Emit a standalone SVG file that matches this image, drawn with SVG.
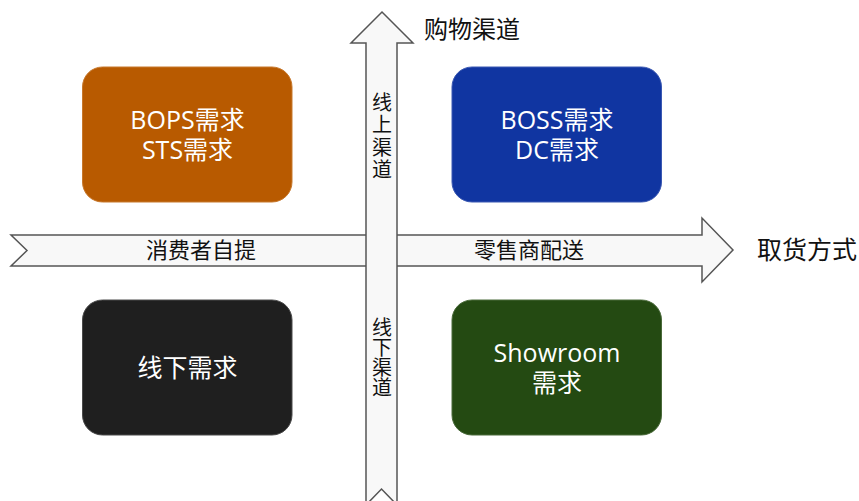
<svg xmlns="http://www.w3.org/2000/svg" width="859" height="501" viewBox="0 0 859 501">
<style>
.axis{fill:#f8f8f8;stroke:#555555;stroke-width:1.5;stroke-linejoin:miter}
.lbl{font-family:"Noto Sans CJK SC","Microsoft YaHei",sans-serif;fill:#111111}
.vt{font-family:"Noto Sans CJK SC","Microsoft YaHei",sans-serif;fill:#111111;font-size:20px;writing-mode:vertical-rl}
.box{stroke-width:1}
.bt{font-family:"Open Sans","Noto Sans CJK SC",sans-serif;font-size:25px;fill:#ffffff;text-anchor:middle}
</style>
<rect width="859" height="501" fill="#ffffff"/>
<g id="connectors">
<polygon class="axis" points="11,235 702,235 702,218 733,250 702,282 702,266 11,266 27,250.5"/>
<polygon class="axis" points="366,43 351,43 382,12 413,43 397,43 397,505 381.5,489 366,505"/>
</g>
<g id="axis-labels">
<text class="lbl" x="424" y="38" font-size="24">购物渠道</text>
<text class="lbl" x="757" y="259" font-size="25">取货方式</text>
<text class="lbl" x="201" y="258" font-size="22" text-anchor="middle">消费者自提</text>
<text class="lbl" x="529" y="258" font-size="22" text-anchor="middle">零售商配送</text>
<text class="vt" x="382" y="92" letter-spacing="2.5">线上渠道</text>
<text class="vt" x="382" y="317">线下渠道</text>
</g>
<g id="node-bops">
<rect class="box" x="82.5" y="67" width="209.5" height="135" rx="20" fill="#b85a00" stroke="#c7782c"/>
<text class="bt" x="187.5" y="129"><tspan x="187.5" y="129">BOPS需求</tspan><tspan x="187.5" y="159">STS需求</tspan></text>
</g>
<g id="node-boss">
<rect class="box" x="452" y="67" width="209.5" height="135" rx="20" fill="#1035a1" stroke="#3a58b2"/>
<text class="bt" x="557" y="129"><tspan x="557" y="129">BOSS需求</tspan><tspan x="557" y="159">DC需求</tspan></text>
</g>
<g id="node-offline">
<rect class="box" x="82.5" y="300" width="209.5" height="135" rx="20" fill="#1f1f1f" stroke="#4a4a4a"/>
<text class="bt" x="187.5" y="377">线下需求</text>
</g>
<g id="node-showroom">
<rect class="box" x="452" y="300" width="209.5" height="135" rx="20" fill="#244a12" stroke="#4a6a3a"/>
<text class="bt" x="557" y="362"><tspan x="557" y="362">Showroom</tspan><tspan x="557" y="392">需求</tspan></text>
</g>
</svg>
